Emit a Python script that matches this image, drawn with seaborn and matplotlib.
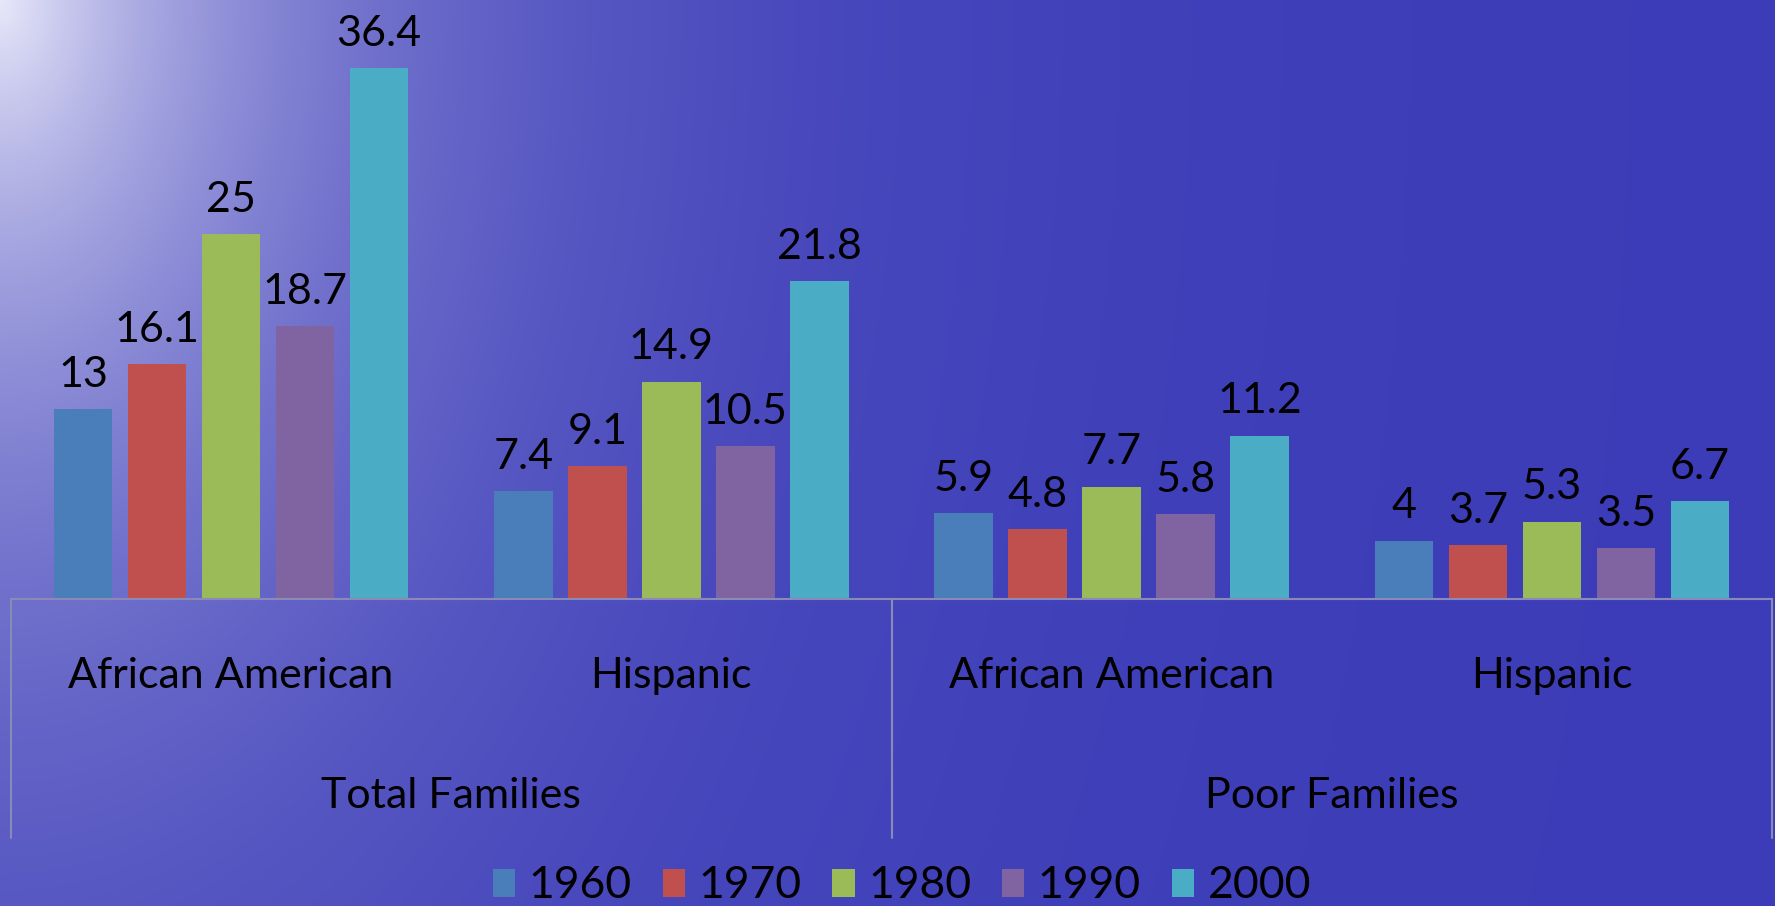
import numpy as np
import pandas as pd
import matplotlib.pyplot as plt
import matplotlib.transforms as mtransforms
from matplotlib.patches import Patch
from matplotlib.lines import Line2D
import seaborn as sns

# data
years = ["1960", "1970", "1980", "1990", "2000"]
groups = ["Total Families", "Total Families", "Poor Families", "Poor Families"]
subgroups = ["African American", "Hispanic", "African American", "Hispanic"]
total_aa = [13, 16.1, 25, 18.7, 36.4]
total_hisp = [7.4, 9.1, 14.9, 10.5, 21.8]
poor_aa = [5.9, 4.8, 7.7, 5.8, 11.2]
poor_hisp = [4, 3.7, 5.3, 3.5, 6.7]
colors = ["#4a7ebb", "#c0504d", "#9bbb59", "#8064a2", "#4bacc6"]

series = [total_aa, total_hisp, poor_aa, poor_hisp]
keys = [g + " | " + s for g, s in zip(groups, subgroups)]
rows = []
for k, vals in zip(keys, series):
    for y, v in zip(years, vals):
        rows.append({"cat": k, "year": y, "value": v})
df = pd.DataFrame(rows)

sns.set_style("white")
plt.rcParams["font.family"] = ["Lato", "DejaVu Sans"]

W, H = 1775, 906
fig = plt.figure(figsize=(W / 100, H / 100), dpi=100)

# background: blue water with a light glow in the top-left corner
bg = fig.add_axes([0, 0, 1, 1], zorder=-10)
xx, yy = np.meshgrid(np.arange(W), np.arange(H))
r = np.sqrt((xx / 380.0) ** 2 + (yy / 600.0) ** 2)
glow = np.exp(-1.2 * r)
base = np.array([0x3c, 0x3c, 0xb8]) / 255
light = np.array([0xe8, 0xe8, 0xfa]) / 255
img = base[None, None, :] * (1 - glow[..., None]) + light[None, None, :] * glow[..., None]
bg.imshow(img, aspect="auto", extent=[0, 1, 0, 1], origin="upper")
bg.axis("off")

ax = fig.add_axes([11 / W, 1 - 599 / H, (1772 - 11) / W, 599 / H])
ax.set_facecolor("none")
sns.barplot(data=df, x="cat", y="value", hue="year", order=keys, hue_order=years,
            palette=colors, saturation=1, width=0.84, gap=0.21, ax=ax, legend=False,
            edgecolor="none", linewidth=0)

for cont in ax.containers:
    ax.bar_label(cont, labels=["%g" % b.get_height() for b in cont],
                 padding=11, fontsize=31, color="black")

ax.set_ylim(0, 41.06)
ax.set_xlim(-0.5, 3.5)
ax.set_xlabel("")
ax.set_ylabel("")
ax.set_xticks([])
ax.set_yticks([])
for s in ["top", "left", "right"]:
    ax.spines[s].set_visible(False)
ax.spines["bottom"].set_color("#8a8ab8")
ax.spines["bottom"].set_linewidth(1.5)

# two-level category axis
trans = mtransforms.blended_transform_factory(ax.transData, fig.transFigure)
for i, s in enumerate(subgroups):
    ax.text(i, 1 - 676 / H, s, transform=trans, ha="center", va="center",
            fontsize=31, color="black", clip_on=False)
for pos, g in zip([0.5, 2.5], ["Total Families", "Poor Families"]):
    ax.text(pos, 1 - 796 / H, g, transform=trans, ha="center", va="center",
            fontsize=31, color="black", clip_on=False)
for xv in [-0.5, 1.5, 3.5]:
    ax.add_line(Line2D([xv, xv], [1 - 599 / H, 1 - 838 / H], transform=trans,
                       color="#8a8ab8", lw=1.5, clip_on=False))

handles = [Patch(facecolor=c, edgecolor="none") for c in colors]
fig.legend(handles, years, loc="center", bbox_to_anchor=(902 / W, 1 - 886 / H),
           ncol=5, frameon=False, fontsize=32, handlelength=0.5, handleheight=0.6,
           handletextpad=0.3, columnspacing=0.7, labelcolor="black")

fig.savefig("out.png", dpi=100)
